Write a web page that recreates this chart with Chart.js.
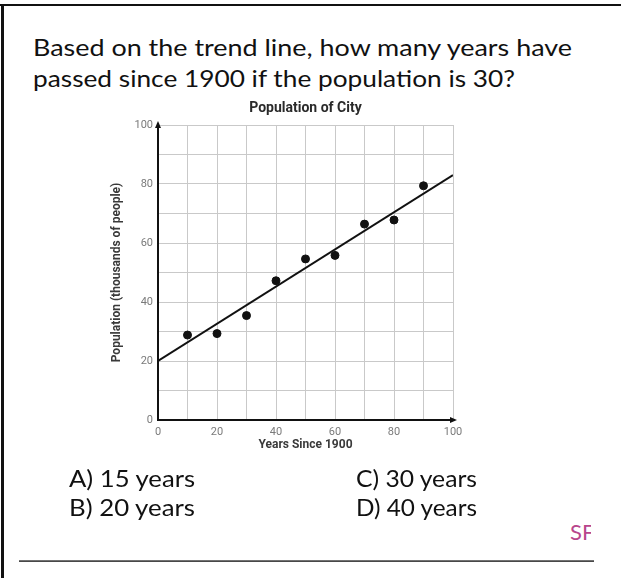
<!DOCTYPE html>
<html>
<head>
<meta charset="utf-8">
<script src="https://cdn.jsdelivr.net/npm/chart.js@4"></script>
<style>
  html, body { margin:0; padding:0; background:#fff; }
  #page { position:relative; width:621px; height:578px; overflow:hidden; background:#fff; }
  .txt { position:absolute; white-space:nowrap; font-family:Lato, "Open Sans", sans-serif; color:#111; line-height:1.2; transform-origin:0 0; }
  #topBorder { position:absolute; left:0; top:4px; width:621px; height:2px; background:#111; }
  #leftBorder { position:absolute; left:1px; top:4px; width:3px; height:574px; background:#111; }
  #bottomRule { position:absolute; left:19px; top:560px; width:575px; height:2px; background:linear-gradient(#888,#333); }
  #sfWrap { position:absolute; left:570px; top:519px; width:21px; height:32px; overflow:hidden; }
  #chartBox { position:absolute; left:108px; top:95px; width:395px; height:370px; }
</style>
</head>
<body>
<div id="page">
  <div id="topBorder"></div>
  <div id="leftBorder"></div>
  <div class="txt" id="q1" data-w="539" data-base="57" data-fs="24" style="left:33px;">Based on the trend line, how many years have</div>
  <div class="txt" id="q2" data-w="482" data-base="88" data-fs="24" style="left:33px;">passed since 1900 if the population is 30?</div>
  <div id="chartBox"><canvas id="c" width="395" height="370"></canvas></div>
  <div class="txt" data-w="126" data-base="488" data-fs="23" style="left:69px;">A) 15 years</div>
  <div class="txt" data-w="126" data-base="517" data-fs="23" style="left:69px;">B) 20 years</div>
  <div class="txt" data-w="121" data-base="488" data-fs="23" style="left:356px;">C) 30 years</div>
  <div class="txt" data-w="121" data-base="517" data-fs="23" style="left:356px;">D) 40 years</div>
  <div id="sfWrap"><div class="txt" style="left:0; top:0; font-size:22px; color:#b8458c; position:absolute;">SF</div></div>
  <div id="bottomRule"></div>
</div>
<script>
// ---- data ----
const years = [10, 20, 30, 40, 50, 60, 70, 80, 90];
const population = [28.8, 29.3, 35.4, 47.2, 54.6, 55.8, 66.4, 67.8, 79.4];
const trendYears = [0, 100];
const trendPopulation = [20, 83];
const tickValues = [0, 20, 40, 60, 80, 100];

// ---- text placement (baseline + width fit) ----
document.querySelectorAll('.txt[data-base]').forEach(el => {
  const fs = parseFloat(el.dataset.fs);
  el.style.fontSize = fs + 'px';
  el.style.top = (parseFloat(el.dataset.base) - 0.987 * fs) + 'px';
});
function fitTexts() {
  document.querySelectorAll('.txt[data-w]').forEach(el => {
    el.style.transform = '';
    const w = el.getBoundingClientRect().width;
    if (w > 0) el.style.transform = 'scaleX(' + (parseFloat(el.dataset.w) / w) + ')';
  });
}
fitTexts();
if (document.fonts && document.fonts.ready) document.fonts.ready.then(fitTexts);

// ---- chart ----
const arrowPlugin = {
  id: 'axisArrows',
  afterDraw(chart) {
    const { ctx, scales: { x, y } } = chart;
    const x0 = x.getPixelForValue(0), y0 = y.getPixelForValue(0);
    const yTop = y.getPixelForValue(100), xEnd = x.getPixelForValue(100);
    ctx.save();
    ctx.fillStyle = '#111';
    ctx.beginPath();
    ctx.moveTo(x0, yTop - 4); ctx.lineTo(x0 - 3, yTop + 3); ctx.lineTo(x0 + 3, yTop + 3); ctx.closePath(); ctx.fill();
    ctx.beginPath();
    ctx.moveTo(xEnd + 4, y0); ctx.lineTo(xEnd - 3, y0 - 3); ctx.lineTo(xEnd - 3, y0 + 3); ctx.closePath(); ctx.fill();
    ctx.restore();
  }
};

const tickFont = { family: 'Roboto, sans-serif', size: 11 };
new Chart(document.getElementById('c'), {
  type: 'scatter',
  data: {
    datasets: [
      {
        label: 'Population',
        data: years.map((v, i) => ({ x: v, y: population[i] })),
        backgroundColor: '#111', borderColor: '#111',
        pointRadius: 4, pointHoverRadius: 4, order: 1
      },
      {
        label: 'Trend line',
        data: trendYears.map((v, i) => ({ x: v, y: trendPopulation[i] })),
        showLine: true, borderColor: '#111', borderWidth: 2,
        pointRadius: 0, fill: false, order: 2
      }
    ]
  },
  options: {
    responsive: false,
    animation: false,
    layout: { padding: 0 },
    plugins: {
      legend: { display: false },
      tooltip: { enabled: false },
      title: {
        display: true, text: 'Population of City', color: '#2a2a2a',
        font: { family: 'Roboto, sans-serif', size: 14, weight: 'bold', lineHeight: 1.2 },
        padding: { top: 4.6, bottom: 8.6 }
      }
    },
    scales: {
      x: {
        type: 'linear', min: 0, max: 100,
        afterFit(s) { s.height = 45; s.paddingLeft = 0; s.paddingRight = 50; },
        ticks: {
          stepSize: 10, autoSkip: false, maxRotation: 0, color: '#7a7a7a', font: tickFont, padding: 6,
          callback: v => tickValues.includes(v) ? String(v) : ''
        },
        grid: { color: '#c9c9c9', lineWidth: 1, drawTicks: false },
        border: { display: true, color: '#111', width: 2 },
        title: {
          display: true, text: 'Years Since 1900', color: '#3a3a3a',
          font: { family: 'Roboto, sans-serif', size: 12, weight: 'bold', lineHeight: 1.2 },
          padding: { top: 0, bottom: 13 }
        }
      },
      y: {
        type: 'linear', min: 0, max: 100,
        afterFit(s) { s.width = 50; },
        ticks: {
          stepSize: 10, autoSkip: false, color: '#7a7a7a', font: tickFont, padding: 5,
          callback: v => tickValues.includes(v) ? String(v) : ''
        },
        grid: { color: '#c9c9c9', lineWidth: 1, drawTicks: false },
        border: { display: true, color: '#111', width: 2 },
        title: {
          display: true, text: 'Population (thousands of people)', color: '#3a3a3a',
          font: { family: 'Roboto, sans-serif', size: 12, weight: 'bold', lineHeight: 1.2 },
          padding: { top: 2, bottom: 0 }
        }
      }
    }
  },
  plugins: [arrowPlugin]
});
</script>
</body>
</html>
